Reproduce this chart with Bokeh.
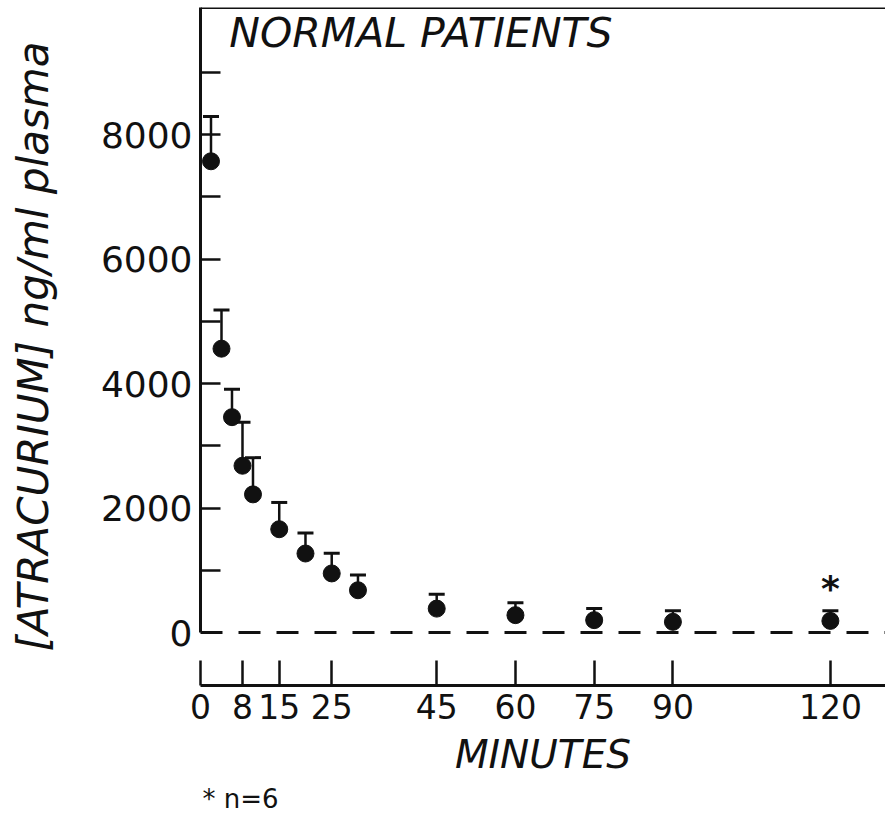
from bokeh.plotting import figure
from bokeh.models import FixedTicker, Span, Label, Range1d, Title
from bokeh.embed import file_html
from bokeh.resources import INLINE

# Plasma atracurium after a bolus dose, normal patients
minutes = [2, 4, 6, 8, 10, 15, 20, 25, 30, 45, 60, 75, 90, 120]
conc_mean = [7570, 4560, 3460, 2680, 2220, 1660, 1270, 950, 680, 385, 280, 200, 172, 188]
conc_upper = [8290, 5180, 3910, 3380, 2810, 2090, 1600, 1275, 925, 615, 480, 385, 350, 350]

# sample with fewer patients
flag_minutes = [120]
flag_y = [700]

x_ticks = [0, 8, 15, 25, 45, 60, 75, 90, 120]
y_ticks = [0, 2000, 4000, 6000, 8000]
y_minor = [1000, 3000, 5000, 7000, 9000]

FONT = "DejaVu Sans"
INK = "#111111"

p = figure(
    width=885, height=829,
    output_backend="svg", toolbar_location=None,
    x_range=Range1d(0, 130.5), y_range=Range1d(-850, 10040),
    min_border_left=200, min_border_right=0,
    min_border_top=7, min_border_bottom=144,
    background_fill_color="white", border_fill_color="white",
)
p.outline_line_color = None
p.xgrid.visible = False
p.ygrid.visible = False

# y axis: inward ticks every 1000, labelled every 2000, line stops at zero
ya = p.yaxis[0]
ya.ticker = FixedTicker(ticks=y_ticks, minor_ticks=y_minor)
ya.bounds = (0, 10040)
ya.axis_line_width = 3
ya.axis_line_color = INK
ya.major_tick_in = 20
ya.major_tick_out = 0
ya.minor_tick_in = 20
ya.minor_tick_out = 0
ya.major_tick_line_width = 2.5
ya.minor_tick_line_width = 2.5
ya.major_tick_line_color = INK
ya.minor_tick_line_color = INK
ya.major_label_standoff = 8
ya.major_label_text_font = FONT
ya.major_label_text_font_size = "36px"
ya.major_label_text_color = INK
ya.axis_label = "[ATRACURIUM] ng/ml plasma"
ya.axis_label_text_font = FONT
ya.axis_label_text_font_size = "42px"
ya.axis_label_text_font_style = "italic"
ya.axis_label_text_color = INK
ya.axis_label_standoff = 40

# x axis: offset below the zero line, ticks pointing up
xa = p.xaxis[0]
xa.ticker = FixedTicker(ticks=x_ticks, minor_ticks=[])
xa.axis_line_width = 3
xa.axis_line_color = INK
xa.major_tick_in = 25
xa.major_tick_out = 0
xa.major_tick_line_width = 2.5
xa.major_tick_line_color = INK
xa.minor_tick_line_color = None
xa.major_label_standoff = 8
xa.major_label_text_font = FONT
xa.major_label_text_font_size = "33px"
xa.major_label_text_color = INK
xa.axis_label = "MINUTES"
xa.axis_label_text_font = FONT
xa.axis_label_text_font_size = "39px"
xa.axis_label_text_font_style = "italic"
xa.axis_label_text_color = INK
xa.axis_label_standoff = 10

# footnote under the axis
p.add_layout(Title(text="* n=6", align="left", offset=2, standoff=4,
                   text_font=FONT, text_font_size="26px",
                   text_font_style="normal", text_color=INK), "below")

# top border and dashed zero baseline
p.add_layout(Span(location=10040, dimension="width", line_color=INK, line_width=3))
p.add_layout(Span(location=0, dimension="width", line_color=INK,
                  line_width=3, line_dash="22 16"))

# error bars (upper only), caps, then means on top
p.segment(x0=minutes, y0=conc_mean, x1=minutes, y1=conc_upper,
          line_color=INK, line_width=2.5)
p.scatter(minutes, conc_upper, marker="dash", size=16,
          line_color=INK, line_width=3)
p.scatter(minutes, conc_mean, marker="circle", size=17,
          fill_color=INK, line_color=INK)

p.text(x=flag_minutes, y=flag_y, text=["*"], text_align="center",
       text_baseline="middle", text_font_size="36px", text_font_style="bold",
       text_color=INK, text_font={"value": FONT})

p.add_layout(Label(x=5.5, y=9237, text="NORMAL PATIENTS", text_font=FONT,
                   text_font_size="41px", text_font_style="italic",
                   text_color=INK))

open("out.html", "w").write(file_html(p, INLINE))
